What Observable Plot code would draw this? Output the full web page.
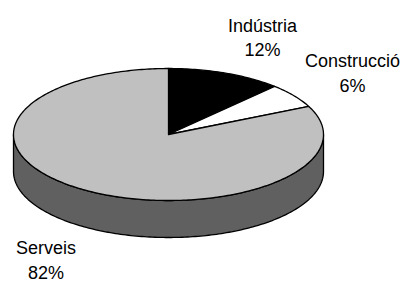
<!DOCTYPE html>
<html>
<head>
<meta charset="utf-8">
<script src="https://cdn.jsdelivr.net/npm/d3@7"></script>
<script src="https://cdn.jsdelivr.net/npm/@observablehq/plot@0.6"></script>
<style>
  html, body { margin: 0; padding: 0; background: #ffffff; }
  #chart svg { display: block; }
</style>
</head>
<body>
<div id="chart"></div>
<script>
// ---- data ----
const categories = ["Indústria", "Construcció", "Serveis"];
const values = [12, 6, 82];
const valueLabels = ["12%", "6%", "82%"];

// ---- styles / layout ----
const topColors = ["#000000", "#ffffff", "#c0c0c0"];
const sideColors = ["#000000", "#808080", "#606060"];
const labelPos = [[262, 35.5], [352, 71], [45.5, 258]];
const W = 405, H = 282;
const cx = 168, cy = 134, rx = 155, ry = 66, depth = 37;

const total = d3.sum(values);
const pt = (t, dy = 0) => ({x: cx + rx * Math.sin(t), y: cy - ry * Math.cos(t) + dy});

// slice angle spans (clockwise from top)
let acc = 0;
const slices = values.map((v, i) => {
  const a0 = acc / total * 2 * Math.PI;
  acc += v;
  const a1 = acc / total * 2 * Math.PI;
  return {i, a0, a1};
});

function arc(a0, a1, dy = 0) {
  const n = Math.max(2, Math.ceil((a1 - a0) / (Math.PI / 180)));
  return d3.range(n + 1).map(k => pt(a0 + (a1 - a0) * k / n, dy));
}

const marks = [];
// sides (visible front half: PI/2 .. 3PI/2)
for (const s of slices) {
  const b0 = Math.max(s.a0, Math.PI / 2), b1 = Math.min(s.a1, 3 * Math.PI / 2);
  if (b1 <= b0) continue;
  const poly = [...arc(b0, b1), ...arc(b0, b1, depth).reverse()];
  poly.push(poly[0]);
  marks.push(Plot.line(poly, {x: "x", y: "y", fill: sideColors[s.i], stroke: "#000", strokeWidth: 1.3, strokeLinejoin: "round"}));
}
// tops
for (const s of slices) {
  const poly = [{x: cx, y: cy}, ...arc(s.a0, s.a1), {x: cx, y: cy}];
  marks.push(Plot.line(poly, {x: "x", y: "y", fill: topColors[s.i], stroke: "#000", strokeWidth: 1.3, strokeLinejoin: "round"}));
}
// labels
const labels = categories.map((c, i) => ({text: c + "\n" + valueLabels[i], x: labelPos[i][0], y: labelPos[i][1]}));
marks.push(Plot.text(labels, {
  x: "x", y: "y", text: "text", fontSize: 18, lineHeight: 1.38,
  lineAnchor: "middle", textAnchor: "middle", fill: "#000"
}));

const chart = Plot.plot({
  width: W, height: H,
  margin: 0,
  style: {fontFamily: "'Liberation Sans', Arial, sans-serif", background: "#ffffff", overflow: "visible"},
  x: {domain: [0, W], range: [0, W], axis: null},
  y: {domain: [0, H], range: [0, H], axis: null},
  marks
});
document.getElementById("chart").appendChild(chart);
</script>
</body>
</html>
